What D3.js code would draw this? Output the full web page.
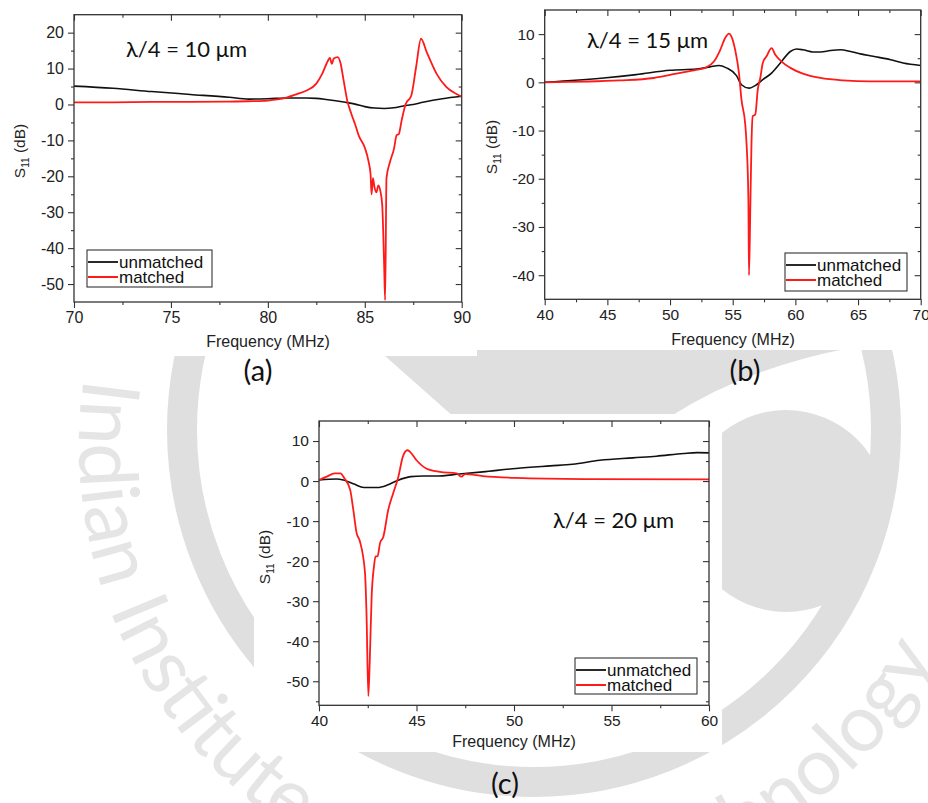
<!DOCTYPE html>
<html>
<head>
<meta charset="utf-8">
<script src="https://d3js.org/d3.v7.min.js"></script>
<style>
  body { margin: 0; background: #fff; }
  svg { display: block; }
</style>
</head>
<body>
<script>
// ---- data: [frequency MHz, S11 dB] ----
// (a) lambda/4 = 10 um
var unmatchedA = [[70,5.1],[72,4.5],[74,3.6],[76,2.8],[78,2.0],[79,1.5],[80,1.6],[81,1.8],[82,1.8],[82.5,1.7],
  [83,1.4],[84,0.6],[84.5,0.1],[85,-0.6],[85.5,-1.0],[86,-1.1],[86.5,-0.9],[87,-0.4],[87.5,0.0],[88,0.6],[89,1.6],[90,2.3]];
var matchedA = [[70,0.6],[72,0.6],[74,0.7],[76,0.7],[78,0.8],[79,0.9],[80,1.1],[80.5,1.4],[81,2.0],[81.5,2.9],
  [82,3.9],[82.5,5.8],[82.8,8.5],[83.1,12.2],[83.2,13.0],[83.3,11.3],[83.4,12.8],[83.6,13.2],[83.75,11.5],[83.9,7],
  [84.1,1],[84.3,-2.5],[84.5,-5.5],[84.7,-8.8],[85.0,-12],[85.2,-16],[85.3,-19.5],[85.35,-25],[85.42,-20.5],[85.5,-23],
  [85.6,-24.5],[85.7,-22.5],[85.8,-24],[85.9,-28],[86.0,-45],[86.05,-54.5],[86.12,-20.5],[86.3,-16],[86.5,-12.5],
  [86.65,-8.5],[86.75,-8.3],[86.9,-4.5],[87.1,0],[87.4,2.5],[87.65,10.5],[87.9,18.3],[88.2,14.5],[88.7,8.6],
  [89.2,4.9],[89.7,3.0],[90,2.2]];

// (b) lambda/4 = 15 um
var unmatchedB = [[40,0],[44.7,0.9],[47.3,1.6],[50,2.5],[52.1,2.75],[53.2,3.2],[53.9,3.5],[54.5,3.0],[55.3,1.4],
  [55.7,-0.5],[56.3,-1.2],[56.9,-0.5],[57.4,0.55],[58.1,1.9],[58.8,4.0],[59.6,6.4],[60.1,6.9],[60.6,6.75],[61.4,6.3],
  [62,6.3],[62.8,6.6],[63.6,6.75],[64.4,6.4],[65.2,5.9],[66.2,5.4],[67.6,4.7],[68.6,4.0],[70,3.5]];
var matchedB = [[40,0],[46,0.4],[48.7,0.9],[50.5,1.8],[52.1,2.6],[52.8,3.0],[53.5,4.3],[54,6.7],[54.4,9.2],
  [54.7,10.1],[54.9,9.5],[55.2,6.7],[55.5,1.9],[55.7,-3.6],[56,-8.7],[56.1,-12.5],[56.25,-24],[56.3,-40],[56.4,-27],
  [56.5,-12.5],[56.6,-7],[56.8,-6.7],[57.0,-1.5],[57.2,0.9],[57.4,4.0],[57.7,5.4],[58.1,7.1],[58.4,5.7],[58.9,4.3],
  [59.6,3.0],[60.6,1.8],[62,0.9],[63.8,0.4],[66,0.2],[70,0.2]];

// (c) lambda/4 = 20 um
var unmatchedC = [[40,0.25],[40.9,0.5],[41.25,0.25],[41.8,-0.75],[42.3,-1.6],[43.0,-1.6],[43.5,-1.0],[44,0.1],
  [44.7,1.1],[45.35,1.25],[46,1.25],[47.2,1.75],[48.4,2.3],[50.1,3.15],[51.85,3.8],[53,4.2],[54.4,5.2],[56.1,5.8],
  [57.3,6.2],[58.7,6.9],[59.4,7.1],[60,7.05]];
var matchedC = [[40,0.25],[40.4,1.1],[40.8,1.9],[41.1,1.9],[41.3,0.7],[41.6,-2.2],[41.76,-7.2],[41.93,-13],
  [42.1,-15.1],[42.36,-23],[42.44,-33.8],[42.53,-53.7],[42.6,-45.4],[42.7,-28.8],[42.82,-21.3],[42.9,-18.8],
  [43.0,-18.8],[43.13,-15.5],[43.3,-13.9],[43.55,-7.2],[43.8,-3.1],[44.07,1.1],[44.3,6.1],[44.53,7.7],[44.67,7.3],
  [45,5.2],[45.5,3.15],[46.2,2.3],[47.06,1.9],[47.3,1.1],[47.5,1.75],[48.4,1.25],[50.1,0.8],[53.6,0.5],[60,0.4]];

var xTicksA = [70, 75, 80, 85, 90];
var yTicksA = [-50, -40, -30, -20, -10, 0, 10, 20];
var xTicksB = [40, 45, 50, 55, 60, 65, 70];
var yTicksB = [-40, -30, -20, -10, 0, 10];
var xTicksC = [40, 45, 50, 55, 60];
var yTicksC = [-50, -40, -30, -20, -10, 0, 10];

var seriesNames = ["unmatched", "matched"];
var seriesColors = ["#111111", "#ff1a1a"];

var W = 928, H = 803;
var svg = d3.select("body").append("svg").attr("width", W).attr("height", H);
svg.append("rect").attr("width", W).attr("height", H).attr("fill", "#fff");

// ---- faint logo watermark behind the panels ----
var grey = "#dfdfdf";
var wm = svg.append("g").attr("fill", grey);
var cx = 534, cy = 430;
wm.append("path").attr("d", "M376,348 L850,348 Q745,368 668,418 L455,418 Z");
wm.append("circle").attr("cx", cx).attr("cy", cy).attr("r", 352)
  .attr("fill", "none").attr("stroke", grey).attr("stroke-width", 30);
wm.append("circle").attr("cx", 786).attr("cy", 511).attr("r", 101);
// lettering runs on its own, slightly lower circle
var tx = 534, ty = 445, rr = 455, a0 = 188.5 * Math.PI / 180, a1 = 20 * Math.PI / 180;
wm.append("path").attr("id", "wmArc").attr("fill", "none")
  .attr("d", "M" + (tx + rr * Math.cos(a0)) + "," + (ty + rr * Math.sin(a0)) +
    " A" + rr + "," + rr + " 0 0 0 " + (tx + rr * Math.cos(a1)) + "," + (ty + rr * Math.sin(a1)));
var wmText = wm.append("text").attr("font-family", "Lato, 'Open Sans', sans-serif").attr("font-size", 80)
  .attr("fill", "#e5e5e5");
wmText.append("textPath").attr("href", "#wmArc").text("Indian Institute");
wmText.append("textPath").attr("href", "#wmArc").attr("startOffset", "95.4%").attr("text-anchor", "end")
  .text("of Technology");

// ---- panels ----
var panels = [
  { box: [0, 5, 477, 351], x0: 74, x1: 461.7, y0: 14.7, y1: 302, xDom: [70, 90], yDom: [-55, 25],
    xTicks: xTicksA, yTicks: yTicksA, series: [unmatchedA, matchedA], font: 16,
    note: "λ/4 = 10 μm", noteX: 126, noteY: 57, legend: [87, 250, 125, 37],
    yLab: [20, 151], xLab: [268, 347], tag: "(a)", tagPos: [258, 381] },
  { box: [477, 6, 451, 344], x0: 544.7, x1: 920.7, y0: 10, y1: 299.3, xDom: [40, 70], yDom: [-45, 15],
    xTicks: xTicksB, yTicks: yTicksB, series: [unmatchedB, matchedB], font: 15.5,
    note: "λ/4 = 15 μm", noteX: 587, noteY: 48, legend: [785, 253, 122, 38],
    yLab: [492, 147], xLab: [733, 345], tag: "(b)", tagPos: [745, 381] },
  { box: [254, 414, 468, 338], x0: 319, x1: 709, y0: 421, y1: 705.3, xDom: [40, 60], yDom: [-56, 15],
    xTicks: xTicksC, yTicks: yTicksC, series: [unmatchedC, matchedC], font: 15.5,
    note: "λ/4 = 20 μm", noteX: 553, noteY: 528, legend: [575, 658, 122, 36],
    yLab: [265, 557], xLab: [514, 747], tag: "(c)", tagPos: [505, 794] }
];

function mids(t) {
  return t.slice(0, -1).map(function (v, i) { return (v + t[i + 1]) / 2; });
}
function plain(v) { return String(v); }   // hyphen minus, like the original

panels.forEach(function (p, k) {
  var g = svg.append("g");
  g.append("rect").attr("x", p.box[0]).attr("y", p.box[1]).attr("width", p.box[2]).attr("height", p.box[3])
    .attr("fill", "#fff");

  var x = d3.scaleLinear().domain(p.xDom).range([p.x0, p.x1]);
  var y = d3.scaleLinear().domain(p.yDom).range([p.y1, p.y0]);
  var xm = mids(p.xTicks), ym = mids(p.yTicks);
  if (p.yTicks[p.yTicks.length - 1] + 5 < p.yDom[1]) ym.push(p.yTicks[p.yTicks.length - 1] + 5);
  if (p.yTicks[0] - 5 > p.yDom[0]) ym.unshift(p.yTicks[0] - 5);

  var axes = g.append("g");
  function put(ax, tr) {
    var a = axes.append("g").attr("transform", tr).call(ax);
    a.select(".domain").remove();
    a.selectAll("line").attr("stroke", "#333").attr("stroke-width", 1.1);
    a.selectAll("text").attr("font-size", p.font).attr("fill", "#222")
      .attr("font-family", "'Liberation Sans', Arial, sans-serif");
    return a;
  }
  var bT = "translate(0," + p.y1 + ")", tT = "translate(0," + p.y0 + ")";
  var lT = "translate(" + p.x0 + ",0)", rT = "translate(" + p.x1 + ",0)";
  put(d3.axisBottom(x).tickValues(p.xTicks).tickSize(6).tickPadding(4).tickFormat(plain), bT);
  put(d3.axisBottom(x).tickValues(xm).tickSize(3).tickFormat(""), bT);
  put(d3.axisTop(x).tickValues(p.xTicks).tickSize(-6).tickFormat(""), tT);
  put(d3.axisTop(x).tickValues(xm).tickSize(-3).tickFormat(""), tT);
  put(d3.axisLeft(y).tickValues(p.yTicks).tickSize(6).tickPadding(4).tickFormat(plain), lT);
  put(d3.axisLeft(y).tickValues(ym).tickSize(3).tickFormat(""), lT);
  put(d3.axisRight(y).tickValues(p.yTicks).tickSize(-6).tickFormat(""), rT);
  put(d3.axisRight(y).tickValues(ym).tickSize(-3).tickFormat(""), rT);

  // curves
  var clipId = "clip" + k;
  g.append("clipPath").attr("id", clipId).append("rect")
    .attr("x", p.x0).attr("y", p.y0).attr("width", p.x1 - p.x0).attr("height", p.y1 - p.y0);
  var line = d3.line().x(function (d) { return x(d[0]); }).y(function (d) { return y(d[1]); })
    .curve(d3.curveMonotoneX);
  p.series.forEach(function (s, i) {
    g.append("path").attr("d", line(s)).attr("fill", "none").attr("stroke", seriesColors[i])
      .attr("stroke-width", i === 0 ? 1.6 : 1.8).attr("stroke-linejoin", "round")
      .attr("clip-path", "url(#" + clipId + ")");
  });

  // frame
  g.append("rect").attr("x", p.x0).attr("y", p.y0).attr("width", p.x1 - p.x0).attr("height", p.y1 - p.y0)
    .attr("fill", "none").attr("stroke", "#333").attr("stroke-width", 1.3);

  // axis titles
  g.append("text").attr("x", p.xLab[0]).attr("y", p.xLab[1]).attr("text-anchor", "middle")
    .attr("font-family", "'Liberation Sans', Arial, sans-serif").attr("font-size", 16).attr("fill", "#222")
    .text("Frequency (MHz)");
  var yl = g.append("text").attr("transform", "translate(" + p.yLab[0] + "," + p.yLab[1] + ") rotate(-90)")
    .attr("text-anchor", "middle").attr("dy", "0.35em")
    .attr("font-family", "'Liberation Sans', Arial, sans-serif").attr("font-size", 15.5).attr("fill", "#222");
  yl.append("tspan").text("S");
  yl.append("tspan").attr("font-size", 10).attr("dy", 4).text("11");
  yl.append("tspan").attr("dy", -4).text(" (dB)");

  // annotation
  g.append("text").attr("x", p.noteX).attr("y", p.noteY).attr("font-family", "Lato, 'Open Sans', sans-serif")
    .attr("font-size", 22).attr("fill", "#111").text(p.note);

  // legend
  var L = p.legend;
  var lg = g.append("g");
  lg.append("rect").attr("x", L[0]).attr("y", L[1]).attr("width", L[2]).attr("height", L[3])
    .attr("fill", "#fff").attr("stroke", "#333").attr("stroke-width", 1.1);
  seriesNames.forEach(function (n, i) {
    var yy = L[1] + 12 + i * 15;
    lg.append("line").attr("x1", L[0] + 1).attr("x2", L[0] + 31).attr("y1", yy).attr("y2", yy)
      .attr("stroke", seriesColors[i]).attr("stroke-width", i === 0 ? 1.8 : 2);
    lg.append("text").attr("x", L[0] + 32).attr("y", yy + 5.5)
      .attr("font-family", "'Liberation Sans', Arial, sans-serif").attr("font-size", 17).attr("fill", "#111")
      .text(n);
  });

  // panel tag
  svg.append("text").attr("x", p.tagPos[0]).attr("y", p.tagPos[1]).attr("text-anchor", "middle")
    .attr("font-family", "Lato, 'Open Sans', sans-serif").attr("font-size", 29).attr("fill", "#111")
    .text(p.tag);
});
</script>
</body>
</html>
